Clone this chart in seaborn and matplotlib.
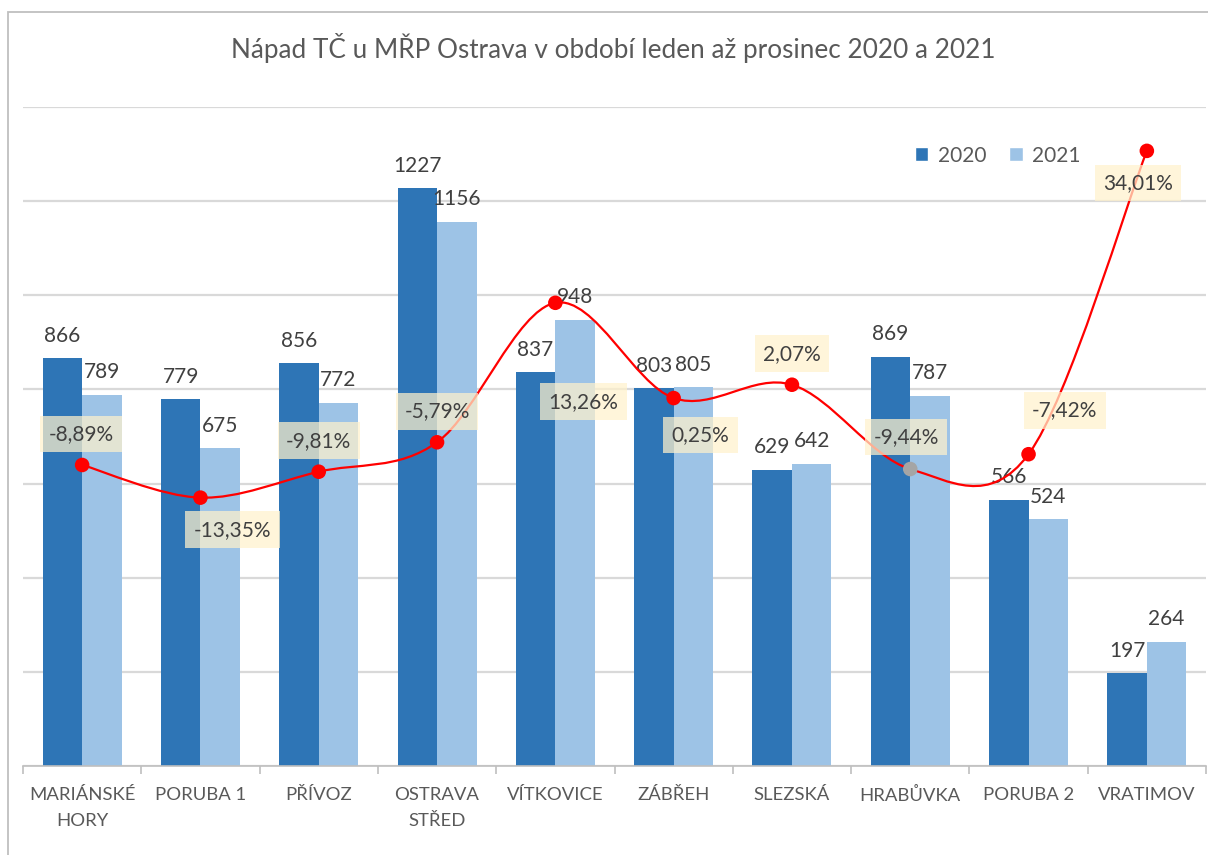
import numpy as np
import pandas as pd
import matplotlib
matplotlib.use("Agg")
import matplotlib.pyplot as plt
import seaborn as sns
from matplotlib.path import Path
from matplotlib.patches import PathPatch, Rectangle, Patch

# ---- data ----
categories = ["MARIÁNSKÉ\nHORY", "PORUBA 1", "PŘÍVOZ", "OSTRAVA\nSTŘED", "VÍTKOVICE",
              "ZÁBŘEH", "SLEZSKÁ", "HRABŮVKA", "PORUBA 2", "VRATIMOV"]
values_2020 = [866, 779, 856, 1227, 837, 803, 629, 869, 566, 197]
values_2021 = [789, 675, 772, 1156, 948, 805, 642, 787, 524, 264]
pct_change = [-8.89, -13.35, -9.81, -5.79, 13.26, 0.25, 2.07, -9.44, -7.42, 34.01]
years = ["2020", "2021"]
title = "Nápad TČ u MŘP Ostrava v období leden až prosinec 2020 a 2021"

# label offsets (pixels) for percentage labels  (style, not data)
pct_offsets = [(-1, 31), (32, -32), (0, 31), (0, 31), (28, -99),
               (27, -37), (0, 31), (-4, 32), (36, 44), (-9, -32)]

C2020 = "#2E75B6"
C2021 = "#9DC3E6"
TXT = "#404040"

sns.set_theme(style="white")
plt.rcParams["font.family"] = ["Lato", "DejaVu Sans"]

W, H = 1208, 855
fig = plt.figure(figsize=(W / 100, H / 100), dpi=100)
fig.patch.set_facecolor("white")

left, right, top, bottom = 23, 1206, 107, 766
ax = fig.add_axes([left / W, (H - bottom) / H, (right - left) / W, (bottom - top) / H])

df = pd.DataFrame({
    "Oblast": categories * 2,
    "Počet": values_2020 + values_2021,
    "Rok": [years[0]] * len(categories) + [years[1]] * len(categories),
})

sns.barplot(data=df, x="Oblast", y="Počet", hue="Rok", palette=[C2020, C2021],
            width=0.668, gap=0, saturation=1, ax=ax, legend=False, zorder=2,
            linewidth=0, edgecolor="none")

# secondary axis (created before styling the primary one, since twinx re-enables ticks)
ax2 = ax.twinx()

ax.set_ylim(0, 1400)
ax.set_xlim(-0.5, len(categories) - 0.5)
ax.set_yticks(np.arange(0, 1401, 200))
ax.yaxis.grid(True, color="#D9D9D9", linewidth=1.6, zorder=0)
ax.set_axisbelow(True)
ax.tick_params(axis="y", left=False, right=False, labelleft=False, labelright=False)
ax.set_xlabel("")
ax.set_ylabel("")
for s in ["top", "right", "left"]:
    ax.spines[s].set_visible(False)
ax.spines["bottom"].set_color("#BFBFBF")
ax.spines["bottom"].set_linewidth(1.2)

ax.set_xticks(range(len(categories)))
ax.set_xticklabels(categories, fontsize=13.3, color="#595959", linespacing=1.75)
ax.tick_params(axis="x", which="major", length=0, pad=15)
ax.set_xticks(np.arange(-0.5, len(categories), 1), minor=True)
ax.tick_params(axis="x", which="minor", length=6, color="#BFBFBF", width=1.2, bottom=True)

# value labels
for cont, vals in zip(ax.containers, [values_2020, values_2021]):
    ax.bar_label(cont, labels=[str(v) for v in vals], padding=9, fontsize=15, color=TXT)

ax2.set_ylim(-50, 40)
ax2.set_xlim(ax.get_xlim())
ax2.axis("off")

xs = np.arange(len(pct_change), dtype=float)
ys = np.array(pct_change, dtype=float)
P = np.column_stack([xs, ys])
n = len(P)
verts = [tuple(P[0])]
codes = [Path.MOVETO]
for i in range(n - 1):
    p0 = P[i - 1] if i > 0 else P[i]
    p1 = P[i]
    p2 = P[i + 1]
    p3 = P[i + 2] if i + 2 < n else P[i + 1]
    c1 = p1 + (p2 - p0) / 6.0
    c2 = p2 - (p3 - p1) / 6.0
    verts += [tuple(c1), tuple(c2), tuple(p2)]
    codes += [Path.CURVE4] * 3
ax2.add_patch(PathPatch(Path(verts, codes), facecolor="none", edgecolor="#FF0000",
                        linewidth=1.6, zorder=3))
marker_colors = ["#FF0000"] * n
marker_colors[7] = "#A5A5A5"
ax2.scatter(xs, ys, s=110, c=marker_colors, zorder=4, edgecolors="none")

for x, y, (dx, dy) in zip(xs, ys, pct_offsets):
    lab = f"{y:.2f}".replace(".", ",") + "%"
    ax2.annotate(lab, (x, y), xytext=(dx, dy), textcoords="offset pixels",
                 ha="center", va="center", fontsize=15, color=TXT, zorder=5,
                 bbox=dict(boxstyle="square,pad=0.4", facecolor="#FFF2CC",
                           edgecolor="none", alpha=0.72))

# legend
handles = [Patch(facecolor=C2020, label=years[0]), Patch(facecolor=C2021, label=years[1])]
leg = ax.legend(handles=handles, loc="center", bbox_to_anchor=(0.824, 0.926), ncol=2,
                frameon=False, fontsize=15, handlelength=0.65, handleheight=0.65,
                handletextpad=0.45, columnspacing=1.1)
for t in leg.get_texts():
    t.set_color("#595959")

# title
fig.text((233 + 993) / 2 / W, 1 - 48 / H, title, ha="center", va="center",
         fontsize=18.8, color="#595959")

# chart border
fig.add_artist(Rectangle((8 / W, -0.1), 1.2, 1.1 - 12 / H, transform=fig.transFigure,
                         fill=False, edgecolor="#BFBFBF", linewidth=1.3))

fig.savefig("out.png", dpi=100)
